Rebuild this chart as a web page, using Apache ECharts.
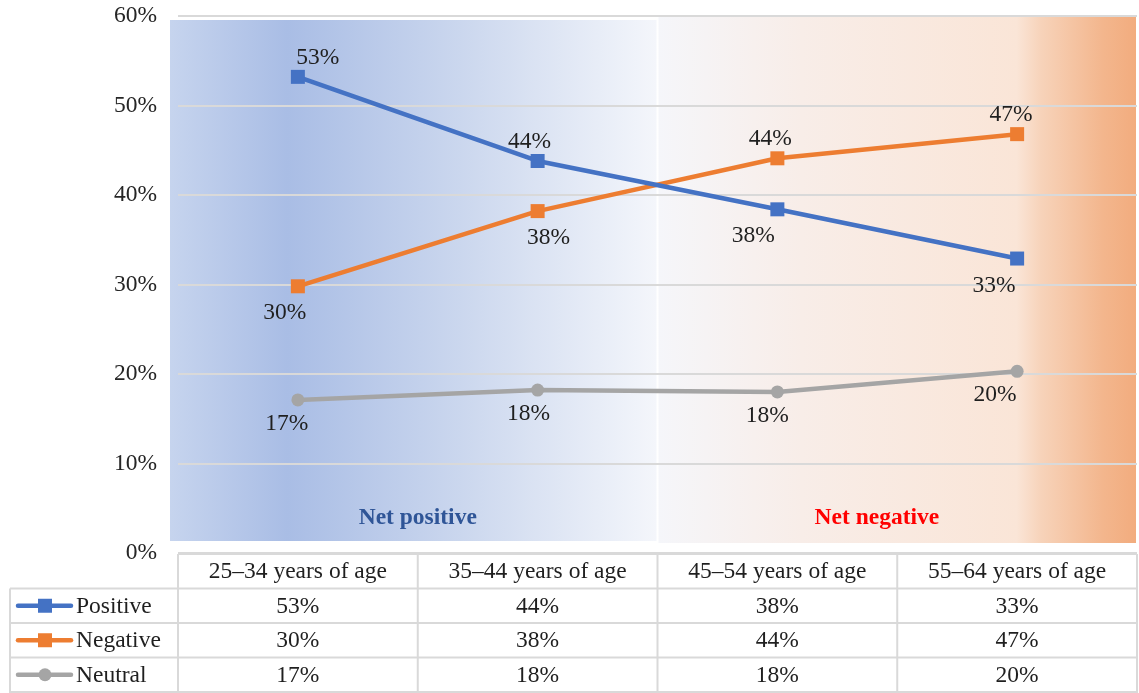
<!DOCTYPE html>
<html>
<head>
<meta charset="utf-8">
<script src="https://cdn.jsdelivr.net/npm/echarts@6/dist/echarts.min.js"></script>
<style>html,body{margin:0;padding:0;background:#fff}#c{width:1139px;height:693px}</style>
</head>
<body>
<div id="c"></div>
<script>
var categories = ['25–34 years of age', '35–44 years of age', '45–54 years of age', '55–64 years of age'];
var positive = [53.2, 43.8, 38.4, 32.9];
var negative = [29.8, 38.2, 44.1, 46.8];
var neutral = [17.1, 18.2, 18.0, 20.3];
var positiveLabels = ['53%', '44%', '38%', '33%'];
var negativeLabels = ['30%', '38%', '44%', '47%'];
var neutralLabels = ['17%', '18%', '18%', '20%'];
var yTicks = [0, 10, 20, 30, 40, 50, 60];
var seriesNames = ['Positive', 'Negative', 'Neutral'];

// label placement (style, not data)
var posLabelPos = ['top', 'top', 'bottom', 'bottom'];
var posLabelDx = [20, -8, -24, -23];
var negLabelPos = ['bottom', 'bottom', 'top', 'top'];
var negLabelDx = [-13, 11, -7, -6];
var neuLabelDx = [-11, -9, -10, -22];

var FONT = '"Liberation Serif", "Times New Roman", serif';
var FS = 23.5;
var colors = ['#4472c4', '#ed7d31', '#a5a5a5'];

var chart = echarts.init(document.getElementById('c'), null, {renderer: 'canvas'});

function mkData(vals, labels, posArr, dxArr, dist) {
  return vals.map(function (v, i) {
    return {
      value: v,
      label: {
        show: true,
        formatter: labels[i],
        position: posArr[i],
        offset: [dxArr[i], 0],
        distance: posArr[i] === 'top' ? dist[0] : dist[1]
      }
    };
  });
}

var baseLabel = {fontFamily: FONT, fontSize: FS, color: '#1f1f1f'};

chart.setOption({
  animation: false,
  grid: {left: 178, right: 2, top: 16, bottom: 140, containLabel: false},
  xAxis: {
    type: 'category',
    data: categories,
    boundaryGap: true,
    axisLine: {show: false},
    axisTick: {show: false},
    axisLabel: {show: false},
    splitLine: {show: false}
  },
  yAxis: {
    type: 'value',
    min: yTicks[0],
    max: yTicks[yTicks.length - 1],
    interval: 10,
    axisLine: {show: false},
    axisTick: {show: false},
    axisLabel: {formatter: '{value}%', fontFamily: FONT, fontSize: FS, color: '#262626', margin: 21},
    splitLine: {show: true, lineStyle: {color: '#d9d9d9', width: 2}}
  },
  series: [
    {
      name: seriesNames[0], type: 'line', z: 4,
      data: mkData(positive, positiveLabels, posLabelPos, posLabelDx, [0, 8]),
      symbol: 'rect', symbolSize: 14,
      lineStyle: {color: colors[0], width: 4.5},
      itemStyle: {color: colors[0]},
      label: baseLabel
    },
    {
      name: seriesNames[1], type: 'line', z: 3,
      data: mkData(negative, negativeLabels, negLabelPos, negLabelDx, [0, 8]),
      symbol: 'rect', symbolSize: 14,
      lineStyle: {color: colors[1], width: 4.5},
      itemStyle: {color: colors[1]},
      label: baseLabel
    },
    {
      name: seriesNames[2], type: 'line', z: 3,
      data: mkData(neutral, neutralLabels, ['bottom', 'bottom', 'bottom', 'bottom'], neuLabelDx, [0, 5]),
      symbol: 'circle', symbolSize: 13,
      lineStyle: {color: colors[2], width: 4.5},
      itemStyle: {color: colors[2]},
      label: baseLabel
    }
  ]
});

// Build background, notes and table from axis scales
function px(i, v) { return chart.convertToPixel({xAxisIndex: 0, yAxisIndex: 0}, [i, v]); }
var c0 = px(0, 0)[0], c1 = px(1, 0)[0];
var step = c1 - c0;
var gridLeft = c0 - step / 2;
var gridRight = px(3, 0)[0] + step / 2;
var yTop = px(0, 60)[1];
var yZero = px(0, 0)[1];
var midX = gridLeft + step * 2;

var g = [];
// background panels
g.push({
  type: 'rect', z: -10, silent: true,
  shape: {x: gridLeft - 8, y: yTop + 4, width: midX - gridLeft + 7, height: yZero - yTop - 16},
  style: {fill: new echarts.graphic.LinearGradient(0, 0, 1, 0, [
    {offset: 0, color: '#c6d4ee'},
    {offset: 0.24, color: '#a9bde5'},
    {offset: 0.6, color: '#cbd7ee'},
    {offset: 1, color: '#f4f6fb'}
  ])}
});
g.push({
  type: 'rect', z: -10, silent: true,
  shape: {x: midX + 1, y: yTop + 1, width: gridRight - midX - 2, height: yZero - yTop - 11},
  style: {fill: new echarts.graphic.LinearGradient(0, 0, 1, 0, [
    {offset: 0, color: '#f5f6fa'},
    {offset: 0.3, color: '#f8ede8'},
    {offset: 0.75, color: '#fae5d7'},
    {offset: 0.8, color: '#f7d3ba'},
    {offset: 0.93, color: '#f3b68d'},
    {offset: 1, color: '#f2ac7e'}
  ])}
});
g.push({
  type: 'text', z: 5, silent: true,
  style: {text: 'Net positive', x: gridLeft + step, y: yZero - 35, align: 'center', verticalAlign: 'middle',
    font: 'bold ' + FS + 'px ' + FONT, fill: '#2f5597'}
});
g.push({
  type: 'text', z: 5, silent: true,
  style: {text: 'Net negative', x: gridLeft + step * 2.915, y: yZero - 35, align: 'center', verticalAlign: 'middle',
    font: 'bold ' + FS + 'px ' + FONT, fill: '#ff0000'}
});

// table
var lineC = '#d9d9d9';
var tTop = yZero + 1;
var rowH = 34.5;
var tBottom = tTop + rowH * 4 + 2;
var tLeft = 10;
function hline(x1, x2, y) {
  g.push({type: 'line', silent: true, z: 1, shape: {x1: x1, y1: y, x2: x2, y2: y}, style: {stroke: lineC, lineWidth: 2}});
}
function vline(x, y1, y2) {
  g.push({type: 'line', silent: true, z: 1, shape: {x1: x, y1: y1, x2: x, y2: y2}, style: {stroke: lineC, lineWidth: 2}});
}
hline(gridLeft, gridRight, tTop);
for (var r = 1; r <= 4; r++) hline(tLeft, gridRight, tTop + rowH * r);
vline(tLeft, tTop + rowH, tBottom);
for (var k = 0; k <= 4; k++) vline(gridLeft + step * k, tTop, tBottom);

var tableFont = FS + 'px ' + FONT;
categories.forEach(function (cat, i) {
  g.push({type: 'text', silent: true, z: 5,
    style: {text: cat, x: px(i, 0)[0], y: tTop + rowH * 0.5 + 1, align: 'center', verticalAlign: 'middle', font: tableFont, fill: '#1f1f1f'}});
});
var rowsLabels = [positiveLabels, negativeLabels, neutralLabels];
rowsLabels.forEach(function (arr, r) {
  var cy = tTop + rowH * (r + 1.5);
  arr.forEach(function (t, i) {
    g.push({type: 'text', silent: true, z: 5,
      style: {text: t, x: px(i, 0)[0], y: cy + 1, align: 'center', verticalAlign: 'middle', font: tableFont, fill: '#1f1f1f'}});
  });
  // legend key
  g.push({type: 'line', silent: true, z: 5, shape: {x1: 18, y1: cy, x2: 71, y2: cy},
    style: {stroke: colors[r], lineWidth: 4.5, lineCap: 'round'}});
  if (r < 2) {
    g.push({type: 'rect', silent: true, z: 6, shape: {x: 38, y: cy - 7, width: 14, height: 14}, style: {fill: colors[r]}});
  } else {
    g.push({type: 'circle', silent: true, z: 6, shape: {cx: 45, cy: cy, r: 6.5}, style: {fill: colors[r]}});
  }
  g.push({type: 'text', silent: true, z: 5,
    style: {text: seriesNames[r], x: 76, y: cy + 1, align: 'left', verticalAlign: 'middle', font: tableFont, fill: '#1f1f1f'}});
});

chart.setOption({graphic: {elements: g}});
</script>
</body>
</html>
